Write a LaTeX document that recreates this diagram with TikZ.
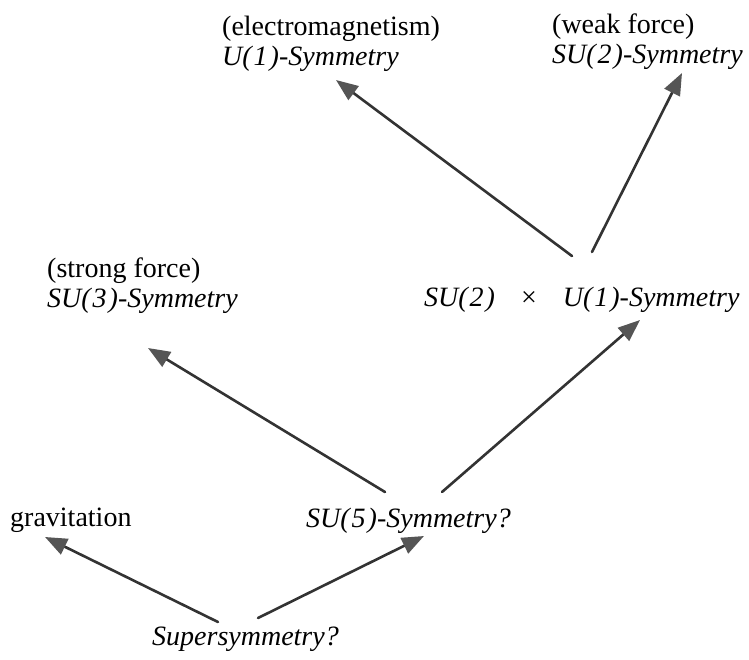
\documentclass[tikz,border=0pt]{standalone}
\usepackage{fontspec}
\setmainfont{Liberation Serif}
\usetikzlibrary{arrows.meta,positioning}

\definecolor{inkline}{HTML}{333333}
\definecolor{inkhead}{HTML}{555555}
\newcommand{\grp}[2]{\textit{#1(\kern2pt#2\kern2pt)}}

\begin{document}
\begin{tikzpicture}[x=1pt,y=-1pt,line cap=round,line join=round,
  lbl/.style={anchor=south west,inner sep=0pt,align=left,font=\fontsize{28}{30.5}\selectfont},
  arr/.style={draw=inkline,line width=2.6pt,-{Triangle[length=22pt,width=17pt,fill=inkhead,color=inkhead]}}]
\useasboundingbox (0,0) rectangle (749,659);
\node[lbl] (u1) at (222,72) {(electromagnetism)\\\grp{U}{1}\textit{-Symmetry}};
\node[lbl] (su2) at (552,70) {(weak force)\\\grp{SU}{2}\textit{-Symmetry}};
\node[lbl] (su3) at (47,314) {(strong force)\\\grp{SU}{3}\textit{-Symmetry}};
\node[lbl] (su2u1) at (424,313) {\grp{SU}{2}\hspace{26pt}\texttimes\hspace{26pt}\grp{U}{1}\textit{-Symmetry}};
\node[lbl] (grav) at (10,533) {gravitation};
\node[lbl] (su5) at (306,534) {\grp{SU}{5}\textit{-Symmetry?}};
\node[lbl] (super) at (152,652) {\textit{Supersymmetry?}};
\draw[arr] ([shift={(66,-30)}]super.south west) -- ([shift={(35,4)}]grav.south west);
\draw[arr] ([shift={(106,-34)}]super.south west) -- ([shift={(118,2)}]su5.south west);
\draw[arr] ([shift={(79,-42)}]su5.south west) -- ([shift={(101,34)}]su3.south west);
\draw[arr] ([shift={(136,-42)}]su5.south west) -- ([shift={(216,7)}]su2u1.south west);
\draw[arr] ([shift={(148,-57)}]su2u1.south west) -- ([shift={(114,8)}]u1.south west);
\draw[arr] ([shift={(168,-61)}]su2u1.south west) -- ([shift={(130,3)}]su2.south west);
\end{tikzpicture}
\end{document}
